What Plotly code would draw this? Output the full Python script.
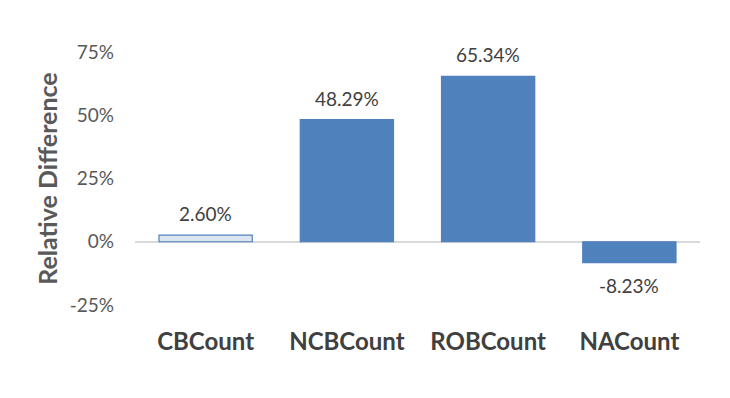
import plotly.graph_objects as go

categories = ["CBCount", "NCBCount", "ROBCount", "NACount"]
values = [2.60, 48.29, 65.34, -8.23]
labels = ["2.60%", "48.29%", "65.34%", "-8.23%"]
tick_vals = [-25, 0, 25, 50, 75]
tick_text = ["-25%", "0%", "25%", "50%", "75%"]

fills = ["#DCE6F1", "#4F81BD", "#4F81BD", "#4F81BD"]

fig = go.Figure(go.Bar(
    x=categories, y=values,
    marker=dict(color=fills, line=dict(color="#4F81BD", width=1.2)),
    width=0.66, cliponaxis=False,
))

for c, v, t in zip(categories, values, labels):
    fig.add_annotation(
        x=c, y=v, text=t, showarrow=False,
        yanchor="bottom" if v >= 0 else "top",
        yshift=8 if v >= 0 else -9,
        font=dict(size=19, color="#404040", family="Lato"),
    )

fig.update_layout(
    width=730, height=398,
    margin=dict(l=135, r=30, t=52, b=93),
    paper_bgcolor="white", plot_bgcolor="white",
    font=dict(family="Lato", color="#595959"),
    showlegend=False,
)
fig.update_xaxes(
    showgrid=False, showline=False, zeroline=False,
    tickvals=categories, ticktext=["<b>%s</b>" % c for c in categories],
    tickfont=dict(size=24, color="#404040", family="Lato"),
    ticklabelstandoff=20, ticks="",
)
fig.update_yaxes(
    range=[-25, 75], tickvals=tick_vals, ticktext=tick_text,
    showgrid=False, showline=False,
    zeroline=True, zerolinecolor="#D9D9D9", zerolinewidth=1.5,
    tickfont=dict(size=19, color="#595959", family="Lato"),
    ticklabelstandoff=20,
    title=dict(text="<b>Relative Difference</b>", font=dict(size=25, color="#595959", family="Lato"), standoff=4),
)

fig.write_html("out.html")
